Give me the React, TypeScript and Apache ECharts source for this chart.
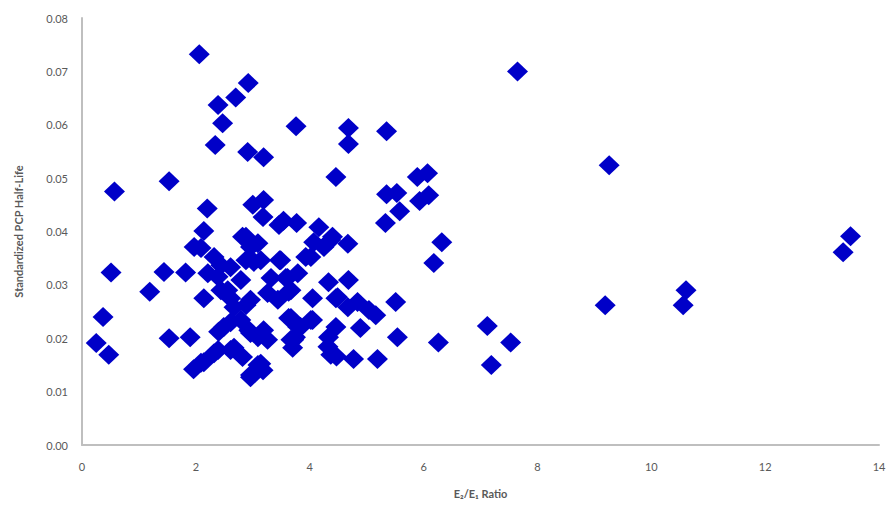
import React, { useEffect, useRef } from "react";
import * as echarts from "echarts";

const xTicks = [0, 2, 4, 6, 8, 10, 12, 14];
const yTicks = [0, 0.01, 0.02, 0.03, 0.04, 0.05, 0.06, 0.07, 0.08];

const ratio: number[] = [
  2.06, 2.92, 2.70, 2.39, 2.47, 2.34, 2.91, 3.19, 3.76, 4.68, 4.68, 5.35, 4.46, 7.65, 0.57, 1.53, 2.2, 2.14, 9.26, 9.19, 10.61, 10.56, 13.5, 13.37,
  5.89, 6.07, 5.35, 5.53, 5.58, 5.93, 6.09, 5.33, 6.32, 6.18, 5.51, 5.54, 6.26, 7.12, 7.53, 7.19, 5.19, 4.77, 4.37, 4.47, 3.70, 3.75,
  4.33, 4.68, 4.05, 4.46, 4.84, 5.16, 5.04, 4.89, 4.46, 4.33, 3.67, 3.84, 4.05, 4.67, 3.47, 3.93, 4.67, 4.37, 3.58, 3.63,
  3.77, 4.16, 4.40, 4.07, 3.54, 4.25, 4.02,
  0.51, 0.37, 0.25, 0.47, 1.19, 1.44, 1.82, 1.53, 1.90, 1.96, 2.14, 2.32, 2.14, 2.09, 2.32, 2.21, 2.44, 2.61, 2.44, 2.61, 2.88, 2.61, 2.40, 2.67, 2.93, 2.96, 3.18, 3.14, 3.26, 3.09, 2.88, 3.09, 2.88, 3.02, 3.49, 3.32, 3.61, 3.67, 3.63, 3.72,
  3.0, 3.19, 3.18, 3.46, 1.97, 2.82,
  2.49, 2.79, 2.96, 3.19, 2.61, 2.09, 2.39, 2.39, 2.56, 2.67, 2.96, 3.26, 3.44, 2.96, 3.14, 2.79, 3.79, 3.67, 4.02, 4.49, 3.79, 3.09, 2.96, 4.32, 2.82,
];

const halfLife: number[] = [
  0.0732, 0.0678, 0.0651, 0.0637, 0.0603, 0.0562, 0.0549, 0.0539, 0.0597, 0.0594, 0.0564, 0.0588, 0.0502, 0.0700, 0.0475, 0.0494, 0.0443, 0.0401, 0.0524, 0.0262, 0.0290, 0.0262, 0.0391, 0.0361,
  0.0502, 0.0509, 0.0470, 0.0472, 0.0438, 0.0457, 0.0468, 0.0416, 0.0380, 0.0341, 0.0268, 0.0202, 0.0192, 0.0223, 0.0192, 0.0150, 0.0161, 0.0161, 0.0169, 0.0166, 0.0182, 0.0202,
  0.0305, 0.0309, 0.0275, 0.0275, 0.0268, 0.0243, 0.0253, 0.0219, 0.0221, 0.0202, 0.0238, 0.0221, 0.0234, 0.0258, 0.0346, 0.0352, 0.0377, 0.0384, 0.0313, 0.0287,
  0.0416, 0.0408, 0.0390, 0.0380, 0.0420, 0.0371, 0.0352,
  0.0323, 0.0240, 0.0191, 0.0169, 0.0287, 0.0324, 0.0323, 0.0200, 0.0202, 0.0142, 0.0155, 0.0172, 0.0275, 0.0369, 0.0352, 0.0322, 0.0337, 0.0333, 0.0290, 0.0275, 0.0262, 0.0230, 0.0212, 0.0182, 0.0215, 0.0131, 0.0140, 0.0152, 0.0197, 0.0202, 0.0390, 0.0378, 0.0346, 0.0343, 0.0346, 0.0313, 0.0313, 0.0290, 0.0238, 0.0197,
  0.0450, 0.0459, 0.0427, 0.0412, 0.0371, 0.0390,
  0.0221, 0.0234, 0.0210, 0.0215, 0.0178, 0.0154, 0.0178, 0.0315, 0.0290, 0.0258, 0.0272, 0.0285, 0.0272, 0.0371, 0.0346, 0.0309, 0.0221, 0.0197, 0.0234, 0.0277, 0.0322, 0.0150, 0.0127, 0.0184, 0.0165,
];

const FONT = "Lato, 'Open Sans', sans-serif";

export default function App() {
  const ref = useRef<HTMLDivElement>(null);
  useEffect(() => {
    if (!ref.current) return;
    const chart = echarts.init(ref.current, null, { renderer: "svg" });
    const data = ratio.map((x, i) => [x, halfLife[i]]);
    chart.setOption({
      animation: false,
      backgroundColor: "#ffffff",
      grid: { left: 82, right: 10, top: 18, bottom: 60, containLabel: false },
      xAxis: {
        type: "value",
        min: xTicks[0],
        max: xTicks[xTicks.length - 1],
        interval: 2,
        name: "E\u2082/E\u2081 Ratio",
        nameLocation: "middle",
        nameGap: 43,
        nameTextStyle: { fontFamily: FONT, fontSize: 11, fontWeight: "bold", color: "#595959" },
        axisLine: { lineStyle: { color: "#bfbfbf", width: 2 } },
        axisTick: { show: false },
        splitLine: { show: false },
        axisLabel: { fontFamily: FONT, fontSize: 11, color: "#595959", margin: 16 },
      },
      yAxis: {
        type: "value",
        min: yTicks[0],
        max: yTicks[yTicks.length - 1],
        interval: 0.01,
        name: "Standardized PCP Half-Life",
        nameLocation: "middle",
        nameGap: 58,
        nameRotate: 90,
        nameTextStyle: { fontFamily: FONT, fontSize: 11, fontWeight: "bold", color: "#595959" },
        axisLine: { show: true, lineStyle: { color: "#bfbfbf", width: 2 } },
        axisTick: { show: false },
        splitLine: { show: false },
        axisLabel: {
          fontFamily: FONT,
          fontSize: 11,
          color: "#595959",
          margin: 14,
          formatter: (v: number) => v.toFixed(2),
        },
      },
      series: [
        {
          type: "scatter",
          data,
          symbol: "diamond",
          symbolSize: [21, 20],
          itemStyle: { color: "#0000c8", opacity: 1 },
        },
      ],
    });
    return () => chart.dispose();
  }, []);
  return <div ref={ref} style={{ width: 889, height: 505, position: "absolute", left: 0, top: 0 }} />;
}
